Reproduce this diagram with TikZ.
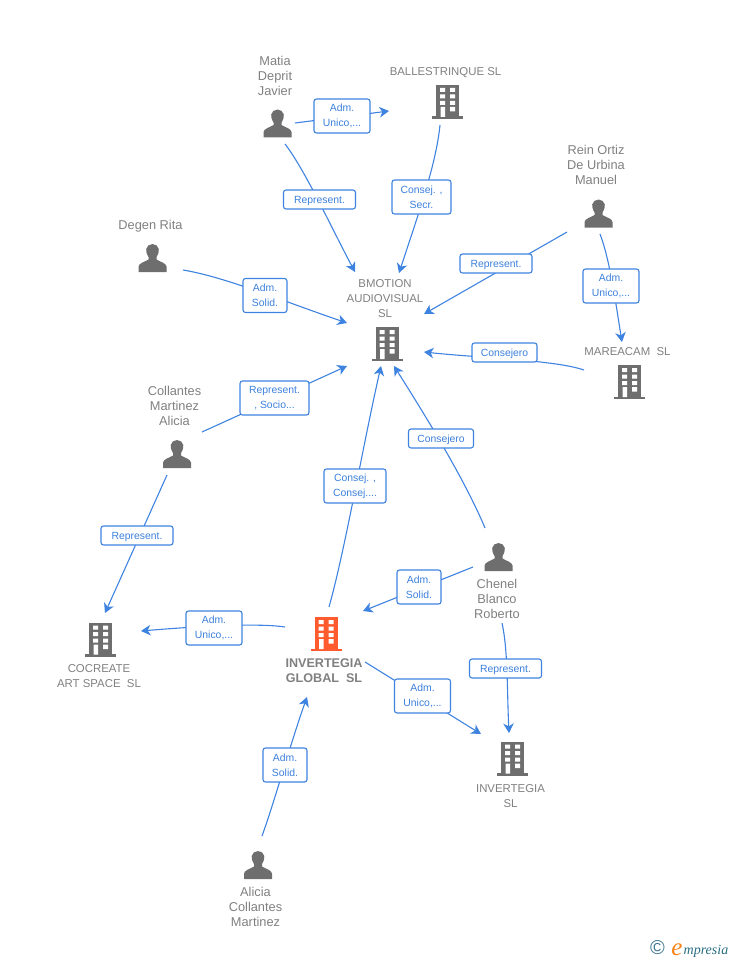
\documentclass[tikz,border=0pt]{standalone}
\usepackage{fontspec}
\setmainfont{Liberation Sans}
\newfontfamily\logofont{Liberation Serif}
\usetikzlibrary{arrows.meta,backgrounds}
\definecolor{conn}{HTML}{3F83E0}
\definecolor{lbltext}{HTML}{3C80DC}
\definecolor{txt}{HTML}{808080}
\definecolor{icon}{HTML}{6E6E6E}
\definecolor{hot}{HTML}{FF5B2E}
\tikzset{
  edge/.style={draw=conn,line width=1.1pt,-{Stealth[length=9.5pt,width=10.5pt,inset=2.8pt]}},
  lbl/.style={draw=conn,line width=1.1pt,rounded corners=2.5pt,fill=white,text=lbltext,inner sep=0pt,
    align=center,font=\fontsize{10.4}{15}\selectfont,execute at begin node={\rule{0pt}{9.8pt}}},
  who/.style={text=txt,align=center,inner sep=0pt,font=\fontsize{12.8}{15}\selectfont},
  firm/.style={text=txt,align=center,inner sep=0pt,font=\fontsize{11.4}{15}\selectfont},
  pics/person/.style={code={
    \fill[icon] (-14,14) -- (-14,8.5) .. controls (-13.5,5) and (-8,4) .. (-4,1.5)
      -- (-4,-1) .. controls (-6,-4) and (-6.5,-7) .. (-6.3,-9)
      .. controls (-5.8,-12) and (-3,-14) .. (0,-14)
      .. controls (3,-14) and (5.8,-12) .. (6.3,-9)
      .. controls (6.5,-7) and (6,-4) .. (4,-1)
      -- (4,1.5) .. controls (8,4) and (13.5,5) .. (14,8.5) -- (14,14) -- cycle;
  }},
  pics/building/.style={code={
    \fill[#1] (-11.5,-17) rectangle (11.5,15);
    \fill[#1] (-15.5,14.5) rectangle (15.5,17);
    \fill[white] (-7.5,-14) rectangle (-2.5,-10) (2.5,-14) rectangle (7.5,-10)
      (-7.5,-7.5) rectangle (-2.5,-3.5) (2.5,-7.5) rectangle (7.5,-3.5)
      (-7.5,-1) rectangle (-2.5,3) (2.5,-1) rectangle (7.5,3)
      (2.5,5) rectangle (7.5,9.5) (-7,5) rectangle (-2.5,15);
  }},
  pics/building/.default=icon
}
\begin{document}
\begin{tikzpicture}[x=1pt,y=-1pt]
\useasboundingbox (0,0) rectangle (728,960);

% icons
\pic (pMatia) at (277.5,123.5) {person};
\pic (pRein) at (598.5,213.5) {person};
\pic (pDegen) at (152.5,258) {person};
\pic (pColl) at (177,454) {person};
\pic (pChenel) at (498.5,557) {person};
\pic (pAlicia) at (258,865) {person};
\pic (bBall) at (447.5,102) {building};
\pic (bBmot) at (387,344) {building};
\pic (bMare) at (629.5,382) {building};
\pic (bCocr) at (100.5,639.5) {building};
\pic (bInvS) at (512.5,758.5) {building};
\pic (bInvG) at (326,634) {building=hot};

% names
\node[who] (nMatia) at (275,76) {Matia\\Deprit\\Javier};
\node[firm] (nBall) at (445.5,72.5) {BALLESTRINQUE SL};
\node[who] (nRein) at (596,165) {Rein Ortiz\\De Urbina\\Manuel};
\node[who] (nDegen) at (150.5,226) {Degen Rita};
\node[firm] (nBmot) at (385,299) {BMOTION\\AUDIOVISUAL\\SL};
\node[firm] (nMare) at (627.5,352) {MAREACAM\ \ SL};
\node[who] (nColl) at (174.5,406) {Collantes\\Martinez\\Alicia};
\node[who] (nChenel) at (497,599) {Chenel\\Blanco\\Roberto};
\node[firm] (nCocr) at (99,676.5) {COCREATE\\ART SPACE\ \ SL};
\node[firm,font=\fontsize{12.6}{15}\selectfont\bfseries] (nInvG) at (324,670.5) {INVERTEGIA\\GLOBAL\ \ SL};
\node[firm] (nInvS) at (510.5,796.5) {INVERTEGIA\\SL};
\node[who] (nAlicia) at (255.5,907) {Alicia\\Collantes\\Martinez};

% connector labels
\node[lbl,minimum width=56pt,minimum height=34pt] (l1) at (342,116) {Adm.\\Unico,...};
\node[lbl,minimum width=72pt,minimum height=19pt] (l2) at (319.5,199.5) {Represent.};
\node[lbl,minimum width=59pt,minimum height=34pt] (l3) at (421.5,197) {Consej. ,\\Secr.};
\node[lbl,minimum width=72pt,minimum height=19pt] (l4) at (496,263.5) {Represent.};
\node[lbl,minimum width=56pt,minimum height=34pt] (l5) at (611,286) {Adm.\\Unico,...};
\node[lbl,minimum width=65pt,minimum height=19pt] (l6) at (504.5,352.5) {Consejero};
\node[lbl,minimum width=44pt,minimum height=34pt] (l7) at (265,295.5) {Adm.\\Solid.};
\node[lbl,minimum width=69pt,minimum height=34pt] (l8) at (274.5,398) {Represent.\\, Socio...};
\node[lbl,minimum width=72pt,minimum height=19pt] (l9) at (137,535.5) {Represent.};
\node[lbl,minimum width=62pt,minimum height=34pt] (l10) at (355,486) {Consej. ,\\Consej....};
\node[lbl,minimum width=65pt,minimum height=19pt] (l11) at (441,438.5) {Consejero};
\node[lbl,minimum width=44pt,minimum height=34pt] (l12) at (419,587) {Adm.\\Solid.};
\node[lbl,minimum width=72pt,minimum height=19pt] (l13) at (505.5,668.5) {Represent.};
\node[lbl,minimum width=56pt,minimum height=34pt] (l14) at (214,628) {Adm.\\Unico,...};
\node[lbl,minimum width=56pt,minimum height=34pt] (l15) at (422.5,696) {Adm.\\Unico,...};
\node[lbl,minimum width=44pt,minimum height=34pt] (l16) at (285,765) {Adm.\\Solid.};

% free ends
\coordinate (s1) at (295,123);   \coordinate (e1) at (389,111);
\coordinate (s2) at (285,144);   \coordinate (e2) at (355,272);
\coordinate (s3) at (440,125);   \coordinate (e3) at (399,273);
\coordinate (s4) at (567,232);   \coordinate (e4) at (424,314);
\coordinate (s5) at (600,234);   \coordinate (e5) at (622,342);
\coordinate (s6) at (584,370);   \coordinate (e6) at (424,352);
\coordinate (s7) at (183,270);   \coordinate (e7) at (347,323);
\coordinate (s8) at (202,432);   \coordinate (e8) at (347,366);
\coordinate (s9) at (167,475);   \coordinate (e9) at (105,613);
\coordinate (s10) at (329,607);  \coordinate (e10) at (381,366);
\coordinate (s11) at (485,528);  \coordinate (e11) at (394,366);
\coordinate (s12) at (473,567);  \coordinate (e12) at (363,611);
\coordinate (s13) at (502,623);  \coordinate (e13) at (509,733);
\coordinate (s14) at (285,627);  \coordinate (e14) at (141,631);
\coordinate (s15) at (365,662);  \coordinate (e15) at (481,734);
\coordinate (s16) at (262,836);  \coordinate (e16) at (307,697);

\begin{pgfonlayer}{background}
\draw[edge] (s1) -- (e1);
\draw[edge] (s2) .. controls (305,170) and (330,225) .. (e2);
\draw[edge] (s3) .. controls (436,165) and (418,215) .. (e3);
\draw[edge] (s4) -- (e4);
\draw[edge] (s5) .. controls (610,260) and (616,305) .. (e5);
\draw[edge] (s6) .. controls (555,360) and (480,358) .. (e6);
\draw[edge] (s7) .. controls (225,277) and (280,300) .. (e7);
\draw[edge] (s8) -- (e8);
\draw[edge] (s9) -- (e9);
\draw[edge] (s10) .. controls (345,550) and (362,450) .. (e10);
\draw[edge] (s11) .. controls (465,480) and (425,415) .. (e11);
\draw[edge] (s12) -- (e12);
\draw[edge] (s13) .. controls (508,650) and (507,690) .. (e13);
\draw[edge] (s14) .. controls (260,623) and (200,626) .. (e14);
\draw[edge] (s15) -- (e15);
\draw[edge] (s16) .. controls (275,800) and (290,745) .. (e16);
\end{pgfonlayer}

% logo
\node[text={rgb,255:red,62;green,118;blue,144},inner sep=0pt,font=\fontsize{20}{20}\selectfont] (cp) at (657.5,948) {\char"00A9};
\node[text={rgb,255:red,250;green,130;blue,20},inner sep=0pt,font=\logofont\fontsize{25}{25}\selectfont\itshape,anchor=base] (logoE) at (677,955) {e};
\node[text={rgb,255:red,40;green,110;blue,130},inner sep=0pt,font=\logofont\fontsize{14}{14}\selectfont\itshape,anchor=base west] (logoT) at (683.5,954) {mpresia};
\end{tikzpicture}
\end{document}
